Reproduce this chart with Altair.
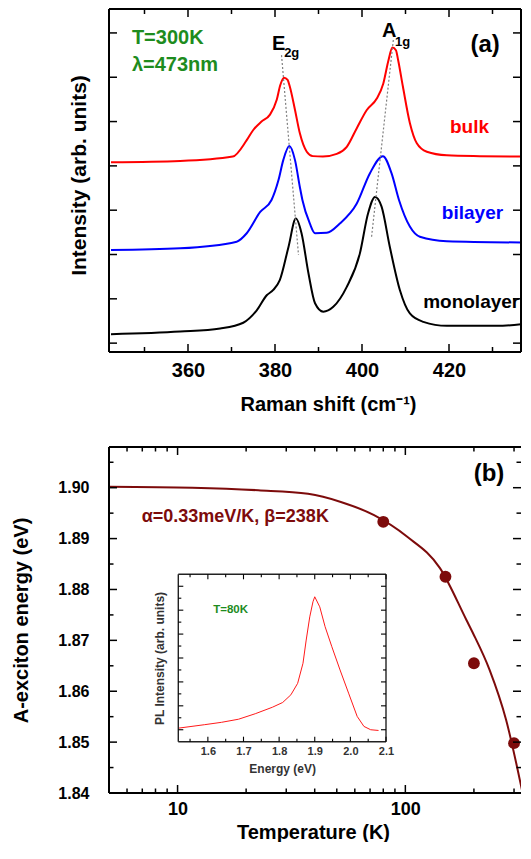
import altair as alt
import pandas as pd

FONT = "Liberation Sans"
GREEN = "#1e8c1e"
DARKRED = "#7d0b0b"
RED = "#ff0000"
BLUE = "#0000ff"
BLACK = "#000000"
GREY = "#333333"

# ================= panel (a): Raman spectra =================
samples = ["bulk", "bilayer", "monolayer"]
sample_colors = [RED, BLUE, BLACK]

bulk_shift = [342.3, 358.2, 370.3, 373.5, 375.0, 376.9, 378.8, 380.4, 381.2, 382.1, 382.9, 383.4,
              384.6, 385.7, 387.3, 388.7, 391.0, 394.2, 396.5, 398.8, 401.1, 403.4, 404.9, 406.1,
              407.0, 407.8, 408.3, 409.4, 411.0, 412.6, 414.9, 419.5, 427.1, 437.9]
bulk_int = [4.08, 4.11, 4.21, 4.58, 4.81, 5.00, 5.15, 5.49, 5.82, 5.99, 5.94, 5.79,
            5.26, 4.74, 4.32, 4.22, 4.21, 4.27, 4.43, 4.85, 5.26, 5.52, 5.86, 6.39,
            6.67, 6.61, 6.39, 5.79, 4.97, 4.51, 4.32, 4.24, 4.22, 4.21]

bilayer_shift = [342.3, 358.2, 371.2, 373.5, 376.6, 379.2, 380.8, 381.9, 383.3, 384.6, 385.7, 386.3,
                 388.0, 389.2, 391.9, 394.9, 398.8, 401.8, 404.8, 406.8, 408.5, 411.0, 413.3, 419.5, 437.9]
bilayer_int = [2.10, 2.14, 2.29, 2.48, 2.96, 3.23, 3.68, 4.13, 4.45, 4.13, 3.53, 3.23,
               2.70, 2.48, 2.49, 2.70, 3.15, 3.83, 4.22, 3.83, 3.23, 2.63, 2.40, 2.30, 2.27]

mono_shift = [342.3, 358.2, 367.4, 372.7, 375.8, 378.1, 379.6, 381.1, 383.1, 384.8, 386.1, 387.7,
              389.2, 391.1, 393.4, 396.5, 399.5, 401.4, 403.0, 404.5, 406.4, 408.7, 411.0, 414.1,
              419.5, 431.0, 437.9]
mono_int = [0.20, 0.26, 0.33, 0.46, 0.74, 1.08, 1.20, 1.42, 2.17, 2.81, 2.48, 1.57,
            0.90, 0.71, 0.82, 1.27, 2.02, 2.93, 3.30, 3.08, 2.17, 1.20, 0.67, 0.48,
            0.39, 0.39, 0.44]

e2g_guide_shift = [381.5, 385.4]
e2g_guide_int = [6.50, 1.99]
a1g_guide_shift = [407.2, 402.2]
a1g_guide_int = [6.84, 2.40]

a_xticks_major = [360, 380, 400, 420]
a_xticks_minor = [350, 370, 390, 410, 430]
a_yticks = [0, 1, 2, 3, 4, 5, 6, 7]

a_left_labels = ["T=300K", "λ=473nm", "E", "2g", "A", "1g"]
a_left_x = [347.1, 347.1, 379.3, 382.1, 404.6, 407.6]
a_left_y = [6.88, 6.28, 6.74, 6.55, 7.05, 6.79]
a_left_colors = [GREEN, GREEN, BLACK, BLACK, BLACK, BLACK]
a_left_sizes = [20, 20, 20, 13, 20, 13]

a_center_labels = ["(a)", "bulk", "bilayer", "monolayer"]
a_center_x = [428.3, 424.7, 425.4, 425.1]
a_center_y = [6.73, 4.88, 2.93, 0.93]
a_center_colors = [BLACK, RED, BLUE, BLACK]
a_center_sizes = [24, 19, 19, 19]

# ================= panel (b): A-exciton energy vs T =================
temp_pts = [80, 150, 200, 300]
energy_pts = [1.8933, 1.8825, 1.8655, 1.8498]

fit_temp = [5.0, 11.6, 22.6, 37.4, 52.1, 72.9, 101.6, 141.9, 185.4, 198.2, 234.3, 276.8, 327.4]
fit_energy = [1.9002, 1.9000, 1.8995, 1.8988, 1.8972, 1.8946, 1.8904, 1.8842, 1.8740, 1.8714,
              1.8642, 1.8544, 1.8399]

b_xticks_major = [10, 100]
b_xticks_minor = [6, 7, 8, 9, 20, 30, 40, 50, 60, 70, 80, 90, 200, 300]
b_yticks_major = [1.84, 1.85, 1.86, 1.87, 1.88, 1.89, 1.90]
b_yticks_minor = [1.845, 1.855, 1.865, 1.875, 1.885, 1.895, 1.905]

b_left_labels = ["α=0.33meV/K, β=238K"]
b_left_x = [6.96]
b_left_y = [1.8943]
b_left_colors = [DARKRED]
b_left_sizes = [18]

b_center_labels = ["(b)"]
b_center_x = [233.0]
b_center_y = [1.9027]
b_center_colors = [BLACK]
b_center_sizes = [24]

# inset: PL spectrum at 80 K
pl_energy = [1.519, 1.590, 1.638, 1.686, 1.733, 1.781, 1.810, 1.833, 1.852, 1.867, 1.876, 1.886,
             1.895, 1.900, 1.914, 1.929, 1.948, 1.971, 1.995, 2.019, 2.038, 2.057, 2.079]
pl_int = [0.07, 0.21, 0.31, 0.44, 0.67, 0.94, 1.14, 1.46, 1.94, 2.78, 3.75, 4.72,
          5.35, 5.56, 5.14, 4.31, 3.47, 2.50, 1.53, 0.56, 0.14, 0.00, -0.03]

in_xticks_major = [1.6, 1.7, 1.8, 1.9, 2.0, 2.1]
in_xticks_minor = [1.55, 1.65, 1.75, 1.85, 1.95, 2.05]
in_yticks_major = [0, 1, 2, 3, 4, 5, 6]
in_yticks_minor = [0.5, 1.5, 2.5, 3.5, 4.5, 5.5]

in_labels = ["T=80K"]
in_x = [1.615]
in_y = [5.01]
in_colors = [GREEN]
in_sizes = [11.5]

# ================= layout constants =================
WA, HA = 412, 343
WB, HB = 412, 346
INS_L, INS_R, INS_T, INS_B = 69.3, 277.0, 127.3, 294.7


def one_row():
    return pd.DataFrame({"k": [0]})


def frame_line(x0, x1, y0, y1, width=2.0, color=BLACK):
    return alt.Chart(one_row()).mark_rule(color=color, strokeWidth=width).encode(
        x=alt.value(x0), x2=alt.value(x1), y=alt.value(y0), y2=alt.value(y1))


def xticks(vals, scale, y_edge, length, width=1.5):
    return alt.Chart(pd.DataFrame({"v": vals})).mark_rule(color=BLACK, strokeWidth=width).encode(
        x=alt.X("v:Q", scale=scale, axis=None),
        y=alt.value(y_edge), y2=alt.value(y_edge + length))


def yticks(vals, scale, x_edge, length, width=1.5):
    return alt.Chart(pd.DataFrame({"v": vals})).mark_rule(color=BLACK, strokeWidth=width).encode(
        y=alt.Y("v:Q", scale=scale, axis=None),
        x=alt.value(x_edge), x2=alt.value(x_edge + length))


def text_layer(labels, xs, ys, colors, sizes, xscale, yscale, align):
    df = pd.DataFrame({"label": labels, "x": xs, "y": ys, "c": colors, "s": sizes})
    return alt.Chart(df).mark_text(font=FONT, fontWeight="bold", align=align, baseline="middle").encode(
        x=alt.X("x:Q", scale=xscale, axis=None),
        y=alt.Y("y:Q", scale=yscale, axis=None),
        text="label:N",
        color=alt.Color("c:N", scale=None),
        size=alt.Size("s:Q", scale=None),
    )


# ================= panel (a) =================
xs_a = alt.Scale(domain=[341.84, 436.55], nice=False, zero=False)
ys_a = alt.Scale(domain=[-0.2, 7.54], nice=False, zero=False)

spec_df = pd.concat([
    pd.DataFrame({"shift": bulk_shift, "inten": bulk_int, "sample": "bulk"}),
    pd.DataFrame({"shift": bilayer_shift, "inten": bilayer_int, "sample": "bilayer"}),
    pd.DataFrame({"shift": mono_shift, "inten": mono_int, "sample": "monolayer"}),
], ignore_index=True)

guide_df = pd.concat([
    pd.DataFrame({"shift": e2g_guide_shift, "inten": e2g_guide_int, "mode": "E2g"}),
    pd.DataFrame({"shift": a1g_guide_shift, "inten": a1g_guide_int, "mode": "A1g"}),
], ignore_index=True)

lines_a = alt.Chart(spec_df).mark_line(strokeWidth=2, interpolate="monotone", clip=True).encode(
    x=alt.X("shift:Q", scale=xs_a, axis=alt.Axis(
        orient="bottom", values=a_xticks_major, format="d", ticks=False, tickSize=0,
        domain=False, grid=False, labelFontSize=20, labelFontWeight="bold", labelPadding=8,
        labelFlush=False, title="Raman shift (cm⁻¹)", titleFontSize=20, titleFontWeight="bold",
        titlePadding=14, titleX=219)),
    y=alt.Y("inten:Q", scale=ys_a, axis=alt.Axis(
        orient="left", labels=False, ticks=False, tickSize=0, domain=False, grid=False,
        minExtent=0, title="Intensity (arb. units)", titleFontSize=21, titleFontWeight="bold",
        titlePadding=20, titleY=166)),
    color=alt.Color("sample:N", scale=alt.Scale(domain=samples, range=sample_colors), legend=None),
)

guides_a = alt.Chart(guide_df).mark_line(strokeWidth=1.2, strokeDash=[2, 2], color="#808080").encode(
    x=alt.X("shift:Q", scale=xs_a, axis=None),
    y=alt.Y("inten:Q", scale=ys_a, axis=None),
    detail="mode:N",
)

panel_a = alt.layer(
    lines_a,
    guides_a,
    frame_line(0, WA, 0, 0), frame_line(0, WA, HA, HA),
    frame_line(0, 0, 0, HA), frame_line(WA, WA, 0, HA),
    xticks(a_xticks_major, xs_a, HA, -8), xticks(a_xticks_minor, xs_a, HA, -5),
    xticks(a_xticks_major, xs_a, 0, 8), xticks(a_xticks_minor, xs_a, 0, 5),
    yticks(a_yticks, ys_a, 0, 8), yticks(a_yticks, ys_a, WA, -8),
    text_layer(a_left_labels, a_left_x, a_left_y, a_left_colors, a_left_sizes, xs_a, ys_a, "left"),
    text_layer(a_center_labels, a_center_x, a_center_y, a_center_colors, a_center_sizes, xs_a, ys_a, "center"),
).resolve_scale(x="independent", y="independent").properties(width=WA, height=HA)

# ================= panel (b) =================
xs_b = alt.Scale(type="log", domain=[5, 321.9], nice=False)
ys_b = alt.Scale(domain=[1.84, 1.908], nice=False, zero=False)
xs_i = alt.Scale(domain=[1.517, 2.1], range=[INS_L, INS_R], nice=False, zero=False)
ys_i = alt.Scale(domain=[-0.5, 6.5], range=[INS_B, INS_T], nice=False, zero=False)

fit_df = pd.DataFrame({"T": fit_temp, "E": fit_energy})
pts_df = pd.DataFrame({"T": temp_pts, "E": energy_pts})
pl_df = pd.DataFrame({"e": pl_energy, "i": pl_int})

curve_b = alt.Chart(fit_df).mark_line(color=DARKRED, strokeWidth=2, interpolate="monotone", clip=True).encode(
    x=alt.X("T:Q", scale=xs_b, axis=alt.Axis(
        orient="bottom", values=b_xticks_major, format="d", ticks=False, tickSize=0, domain=False,
        grid=False, labelFontSize=18, labelFontWeight="bold", labelPadding=7, labelFlush=False,
        title="Temperature (K)", titleFontSize=20, titleFontWeight="bold", titlePadding=4,
        titleX=204)),
    y=alt.Y("E:Q", scale=ys_b, axis=alt.Axis(
        orient="left", values=b_yticks_major, format=".2f", ticks=False, tickSize=0, domain=False,
        grid=False, labelFontSize=16, labelFontWeight="bold", labelPadding=20, minExtent=0,
        title="A-exciton energy (eV)", titleFontSize=20, titleFontWeight="bold", titlePadding=26)),
)

points_b = alt.Chart(pts_df).mark_circle(size=140, color=DARKRED, opacity=1).encode(
    x=alt.X("T:Q", scale=xs_b, axis=None),
    y=alt.Y("E:Q", scale=ys_b, axis=None),
)

inset_line = alt.Chart(pl_df).mark_line(color="#ff1a1a", strokeWidth=1).encode(
    x=alt.X("e:Q", scale=xs_i, axis=alt.Axis(
        orient="bottom", offset=INS_B - HB, values=in_xticks_major, format=".1f", ticks=False,
        tickSize=0, domain=False, grid=False, labelFontSize=11, labelFontWeight="bold",
        labelColor=GREY, labelPadding=4, labelFlush=False, title="Energy (eV)",
        titleFontSize=12, titleFontWeight="bold", titleColor=GREY, titlePadding=7)),
    y=alt.Y("i:Q", scale=ys_i, axis=alt.Axis(
        orient="left", offset=-INS_L, labels=False, ticks=False, tickSize=0, domain=False,
        grid=False, minExtent=0, title="PL Intensity (arb. units)", titleFontSize=12,
        titleFontWeight="bold", titleColor=GREY, titlePadding=12)),
)

panel_b = alt.layer(
    curve_b,
    points_b,
    frame_line(0, WB, 0, 0), frame_line(0, WB, HB, HB), frame_line(0, 0, 0, HB),
    xticks(b_xticks_major, xs_b, HB, -8), xticks(b_xticks_minor, xs_b, HB, -4.5),
    xticks(b_xticks_major, xs_b, 0, 8), xticks(b_xticks_minor, xs_b, 0, 4.5),
    yticks(b_yticks_major, ys_b, 0, 8), yticks(b_yticks_minor, ys_b, 0, 4.5),
    yticks(b_yticks_major, ys_b, WB, -8), yticks(b_yticks_minor, ys_b, WB, -4.5),
    text_layer(b_left_labels, b_left_x, b_left_y, b_left_colors, b_left_sizes, xs_b, ys_b, "left"),
    text_layer(b_center_labels, b_center_x, b_center_y, b_center_colors, b_center_sizes, xs_b, ys_b, "center"),
    # inset
    inset_line,
    frame_line(INS_L, INS_R, INS_T, INS_T, 1.4, "#222222"),
    frame_line(INS_L, INS_R, INS_B, INS_B, 1.4, "#222222"),
    frame_line(INS_L, INS_L, INS_T, INS_B, 1.4, "#222222"),
    frame_line(INS_R, INS_R, INS_T, INS_B, 1.4, "#222222"),
    xticks(in_xticks_major, xs_i, INS_B, -5, 1.1), xticks(in_xticks_minor, xs_i, INS_B, -3, 1.1),
    xticks(in_xticks_major, xs_i, INS_T, 5, 1.1), xticks(in_xticks_minor, xs_i, INS_T, 3, 1.1),
    yticks(in_yticks_major, ys_i, INS_L, 5, 1.1), yticks(in_yticks_minor, ys_i, INS_L, 3, 1.1),
    yticks(in_yticks_major, ys_i, INS_R, -5, 1.1), yticks(in_yticks_minor, ys_i, INS_R, -3, 1.1),
    text_layer(in_labels, in_x, in_y, in_colors, in_sizes, xs_i, ys_i, "left"),
).resolve_scale(x="independent", y="independent").properties(width=WB, height=HB)

chart = alt.vconcat(panel_a, panel_b, spacing=95, bounds="flush").properties(
    padding={"left": 3, "top": 0, "right": 0, "bottom": 0}
).configure_view(strokeWidth=0).configure_axis(
    labelFont=FONT, titleFont=FONT, labelColor=BLACK, titleColor=BLACK
)

chart.save("out.html", embed_options={"renderer": "svg", "actions": False})
